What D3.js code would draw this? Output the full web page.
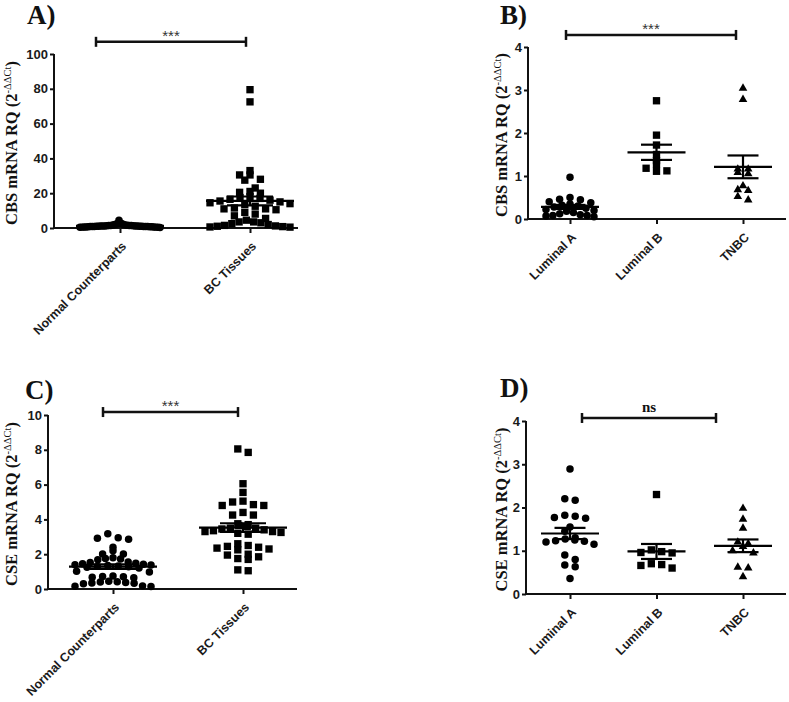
<!DOCTYPE html>
<html><head><meta charset="utf-8">
<script src="https://cdn.jsdelivr.net/npm/d3@7"></script>
<style>body{margin:0;background:#fff}</style>
</head><body>
<svg id="chart" width="789" height="702"></svg>
<script>
// ---------- data ----------
const tissueCategories = ["Normal Counterparts", "BC Tissues"];
const subtypeCategories = ["Luminal A", "Luminal B", "TNBC"];

const cbsNormal = [4.5, 2.8, 2.5, 2.2, 2.0, 1.8, 1.7, 1.6, 1.5, 1.4, 1.4, 1.3, 1.2, 1.2, 1.1, 1.0, 1.0, 0.9, 0.9, 0.8,
                   0.8, 0.7, 0.7, 0.6, 0.6, 0.5, 0.5, 0.4, 0.4, 0.3, 1.5, 1.1, 0.9, 1.3, 0.7, 1.0, 0.6, 1.2, 0.8, 1.0];
const cbsBC = [79.5, 72.5, 33, 30.5, 30.5, 28, 27.5, 23, 21, 20.5, 20, 18, 17.5, 17, 16.5, 16, 15.5, 15, 14.5, 14,
               13.5, 12.5, 11.5, 11, 11, 10.5, 9, 8, 7, 5.5, 4.5, 3.5, 3.5, 3, 2.5, 2, 1.5, 1.2, 1, 0.8, 0.6, 0.5];
const cbsLumA = [0.97, 0.50, 0.46, 0.45, 0.40, 0.38, 0.35, 0.32, 0.30, 0.28, 0.25, 0.22, 0.20, 0.18, 0.15,
                 0.12, 0.10, 0.08, 0.08, 0.07, 0.05];
const cbsLumB = [2.75, 1.95, 1.72, 1.50, 1.36, 1.27, 1.18, 1.11, 1.12];
const cbsTNBC = [3.04, 2.78, 1.16, 1.16, 1.08, 1.05, 0.77, 0.66, 0.68, 0.52, 0.44];

const cseNormal = [3.18, 2.95, 2.91, 2.86, 2.40, 2.20, 2.01, 2.01, 1.80, 1.75, 1.72, 1.68, 1.55, 1.52, 1.48, 1.45,
                   1.42, 1.40, 1.38, 1.35, 1.32, 1.30, 1.28, 1.25, 1.20, 1.02, 0.98, 0.75, 0.72, 0.70, 0.68, 0.65,
                   0.45, 0.42, 0.40, 0.38, 0.35, 0.33, 0.30, 0.18, 0.16, 0.15];
const cseBC = [8.05, 7.85, 6.05, 5.55, 5.05, 5.0, 4.85, 4.8, 4.8, 4.4, 4.25, 4.25, 3.75, 3.7, 3.65, 3.6, 3.5, 3.5,
               3.45, 3.4, 3.35, 3.3, 3.3, 3.25, 3.2, 3.15, 2.6, 2.5, 2.45, 2.4, 2.35, 2.3, 2.25, 2.0, 1.95, 1.85,
               1.75, 1.7, 1.1, 1.05];
const cseLumA = [2.89, 2.20, 2.17, 1.82, 1.80, 1.77, 1.75, 1.55, 1.45, 1.30, 1.27, 1.25, 1.23, 1.22, 1.20, 1.15,
                 0.90, 0.80, 0.67, 0.63, 0.36];
const cseLumB = [2.30, 1.02, 0.98, 0.96, 0.95, 0.70, 0.68, 0.66, 0.60];
const cseTNBC = [1.98, 1.73, 1.52, 1.20, 1.16, 1.10, 1.00, 0.95, 0.62, 0.60, 0.40];

const cbsTicks = [0, 20, 40, 60, 80, 100];
const subtypeTicks = [0, 1, 2, 3, 4];
const cseTicks = [0, 2, 4, 6, 8, 10];

const panelLetters = ["A)", "B)", "C)", "D)"];
const geneNames = ["CBS", "CBS", "CSE", "CSE"];
const significanceLabels = ["***", "***", "***", "ns"];
const bracketValues = [107, 4.28, 10.17, 4.07];

// ---------- layout ----------
const panels = [
  {cats: tissueCategories, groups: [cbsNormal, cbsBC], ticks: cbsTicks, shapes: ["circle", "square"],
   x0: 54, x1: 298, yBot: 228, yTop: 54, cat: [120, 250], titleX: 27, titleY: 24, labelX: 17,
   meanW: 88, semW: 46, maxHalf: 40, br: [-24, -4]},
  {cats: subtypeCategories, groups: [cbsLumA, cbsLumB, cbsTNBC], ticks: subtypeTicks, shapes: ["circle", "square", "triangle"],
   x0: 528, x1: 786, yBot: 219, yTop: 47, cat: [570, 743], titleX: 500, titleY: 24, labelX: 507,
   meanW: 58, semW: 31, maxHalf: 24, br: [-4, -7]},
  {cats: tissueCategories, groups: [cseNormal, cseBC], ticks: cseTicks, shapes: ["circle", "square"],
   x0: 48, x1: 297, yBot: 589, yTop: 415, cat: [113, 243], titleX: 25, titleY: 399, labelX: 17,
   meanW: 88, semW: 46, maxHalf: 38, br: [-10, -5]},
  {cats: subtypeCategories, groups: [cseLumA, cseLumB, cseTNBC], ticks: subtypeTicks, shapes: ["circle", "square", "triangle"],
   x0: 526, x1: 786, yBot: 594, yTop: 421, cat: [570, 743], titleX: 500, titleY: 397, labelX: 507,
   meanW: 58, semW: 31, maxHalf: 24, br: [12, -27]}
];

const svg = d3.select("#chart");
const ink = "#111";
const symbolOf = {
  circle: d3.symbol().type(d3.symbolCircle).size(44),
  square: d3.symbol().type(d3.symbolSquare).size(54),
  triangle: d3.symbol().type(d3.symbolTriangle).size(32)
};

// GraphPad-like column scatter: bin by height, spread each bin centre-out
function swarm(values, y, cx, binPx, step, maxHalf) {
  const pts = values.map(v => ({v, py: y(v)}));
  const base = y(0);
  const bins = d3.group(pts, p => Math.floor((base - p.py) / binPx));
  bins.forEach(arr => {
    arr.sort((a, b) => b.v - a.v);
    const n = arr.length;
    const s = n > 1 ? Math.min(step, 2 * maxHalf / (n - 1)) : 0;
    const slots = d3.range(n).map(i => (i - (n - 1) / 2) * s)
      .sort((a, b) => Math.abs(a) - Math.abs(b) || a - b);
    arr.forEach((p, i) => { p.px = cx + slots[i]; });
  });
  return pts;
}

panels.forEach((P, pi) => {
  const g = svg.append("g");
  const y = d3.scaleLinear().domain([0, d3.max(P.ticks)]).range([P.yBot, P.yTop]);
  const x = d3.scalePoint().domain(P.cats).range(P.cat);

  // title
  g.append("text").attr("x", P.titleX).attr("y", P.titleY)
    .attr("font-family", "Liberation Serif, Times New Roman, serif").attr("font-weight", "bold")
    .attr("font-size", 27).attr("fill", ink).text(panelLetters[pi]);

  // y axis
  const yAxis = g.append("g").attr("transform", `translate(${P.x0},0)`)
    .call(d3.axisLeft(y).tickValues(P.ticks).tickSize(4).tickPadding(2).tickFormat(d3.format("d")));
  yAxis.select(".domain").attr("stroke", ink).attr("stroke-width", 2)
    .attr("d", `M0,${P.yBot}V${P.yTop}`);
  yAxis.selectAll(".tick line").attr("stroke", ink).attr("stroke-width", 2);
  yAxis.selectAll(".tick text").attr("font-family", "Liberation Sans, Arial, sans-serif")
    .attr("font-weight", "bold").attr("font-size", 13).attr("fill", "#1a1a1a");

  // x axis
  const xAxis = g.append("g").attr("transform", `translate(0,${P.yBot})`)
    .call(d3.axisBottom(x).tickSize(5).tickFormat(""));
  xAxis.select(".domain").attr("stroke", ink).attr("stroke-width", 2)
    .attr("d", `M${P.x0},0H${P.x1}`);
  xAxis.selectAll(".tick line").attr("stroke", ink).attr("stroke-width", 2);
  g.selectAll(".xlab").data(P.cats).join("text")
    .attr("transform", d => `translate(${x(d) + 7},${P.yBot + 19}) rotate(-45)`)
    .attr("text-anchor", "end")
    .attr("font-family", "Liberation Sans, Arial, sans-serif").attr("font-weight", "bold")
    .attr("font-size", 12.5).attr("fill", "#1a1a1a").text(d => d);

  // y label
  const lab = g.append("text")
    .attr("transform", `translate(${P.labelX},${(P.yBot + P.yTop) / 2 + 2}) rotate(-90)`)
    .attr("text-anchor", "middle")
    .attr("font-family", "Liberation Serif, Times New Roman, serif").attr("font-weight", "bold")
    .attr("font-size", 16.5).attr("fill", ink);
  lab.append("tspan").text(`${geneNames[pi]} mRNA RQ (2`);
  lab.append("tspan").attr("font-size", 10.5).attr("font-weight", "normal").attr("dy", -6).text("-ΔΔCt");
  lab.append("tspan").attr("dy", 6).text(")");

  // points, mean and SEM
  P.groups.forEach((vals, gi) => {
    const cx = x(P.cats[gi]);
    const pts = swarm(vals, y, cx, 8, 10.4, P.maxHalf);
    g.selectAll(null).data(pts).join("path")
      .attr("d", symbolOf[P.shapes[gi]])
      .attr("transform", d => `translate(${d.px},${d.py})`)
      .attr("fill", "#000");
    const m = d3.mean(vals);
    const sem = d3.deviation(vals) / Math.sqrt(vals.length);
    const stats = g.append("g").attr("stroke", "#000").attr("stroke-width", 2.2);
    stats.append("line").attr("x1", cx - P.meanW / 2).attr("x2", cx + P.meanW / 2)
      .attr("y1", y(m)).attr("y2", y(m));
    stats.append("line").attr("x1", cx).attr("x2", cx).attr("y1", y(m - sem)).attr("y2", y(m + sem));
    [m - sem, m + sem].forEach(v => stats.append("line")
      .attr("x1", cx - P.semW / 2).attr("x2", cx + P.semW / 2).attr("y1", y(v)).attr("y2", y(v)));
  });

  // significance bracket
  const bx1 = x(P.cats[0]) + P.br[0];
  const bx2 = x(P.cats[P.cats.length - 1]) + P.br[1];
  const by = y(bracketValues[pi]);
  const br = g.append("g").attr("stroke", ink).attr("stroke-width", 2.5);
  br.append("line").attr("x1", bx1).attr("x2", bx2).attr("y1", by).attr("y2", by);
  [bx1, bx2].forEach(bx => br.append("line").attr("x1", bx).attr("x2", bx).attr("y1", by - 5).attr("y2", by + 5));
  const isNs = significanceLabels[pi] === "ns";
  g.append("text").attr("x", (bx1 + bx2) / 2).attr("y", isNs ? by - 6 : by - 1)
    .attr("text-anchor", "middle")
    .attr("font-family", isNs ? "Liberation Serif, Times New Roman, serif" : "Liberation Sans, Arial, sans-serif")
    .attr("font-weight", isNs ? "bold" : "normal")
    .attr("font-size", 15).attr("fill", isNs ? ink : "#333")
    .text(significanceLabels[pi]);
});
</script>
</body></html>
